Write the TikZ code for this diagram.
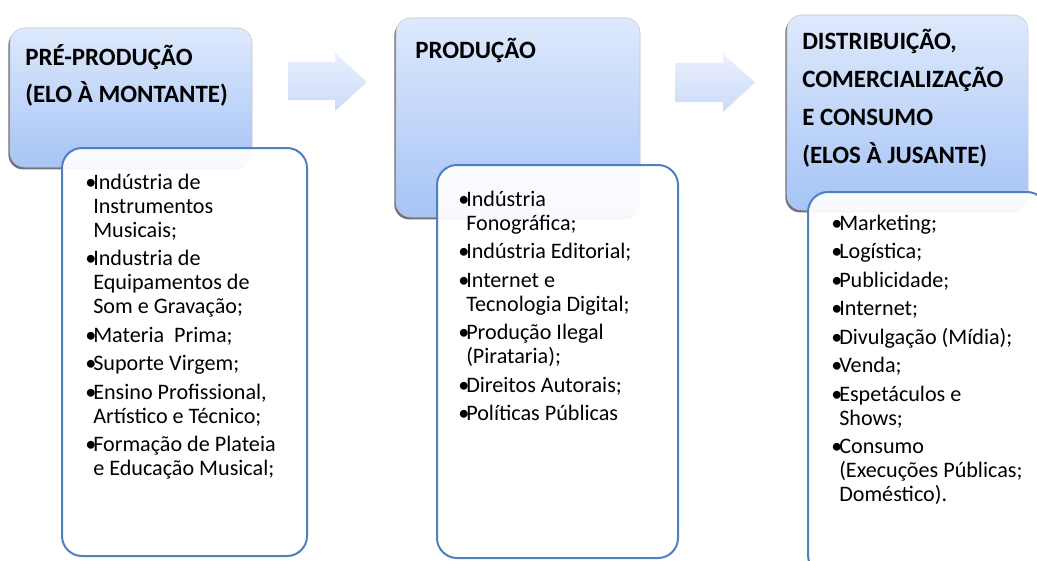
\documentclass[tikz,border=0pt]{standalone}
\usepackage{fontspec}
\setmainfont{Carlito}
\usetikzlibrary{fit,shadows}
\definecolor{hdtop}{RGB}{222,233,252}
\definecolor{hdbot}{RGB}{166,196,246}
\definecolor{artop}{RGB}{234,240,253}
\definecolor{arbot}{RGB}{204,219,248}
\definecolor{bxline}{RGB}{79,129,189}
\definecolor{shad}{RGB}{95,100,115}
\newlength{\bw}\setlength{\bw}{6pt}
\newcommand{\bfirst}[1]{\hbox{\makebox[\bw][l]{•}#1}}
\newcommand{\bcont}[1]{\hbox{\hspace*{\bw}#1}}
\newcommand{\bgap}{\vskip3.4pt}
\tikzset{
  hdr/.style={inner sep=0pt, rounded corners=11pt, top color=hdtop, bottom color=hdbot,
    draw=gray!45, line width=0.4pt,
    drop shadow={shadow xshift=-1.2pt, shadow yshift=-1.8pt, fill=shad, opacity=0.9}},
  listbox/.style={inner sep=0pt, rounded corners=15pt, draw=bxline, line width=1.5pt,
    fill=white, fill opacity=0.93},
  blockarrow/.style={top color=artop, bottom color=arbot, draw=none},
  hdtext/.style={anchor=base west, inner sep=0pt, font=\fontsize{18.7pt}{28.2pt}\selectfont\bfseries},
  lsttext/.style={anchor=base west, inner sep=0pt, font=\fontsize{16.6pt}{18pt}\selectfont}
}
\begin{document}
\begin{tikzpicture}[x=0.75pt,y=-0.75pt]
\fill[white] (0,0) rectangle (1037,560);
\useasboundingbox (0,0) rectangle (1037,560);
\clip (0,0) rectangle (1037,560);

% block arrows
\shade[blockarrow] (288,62) -- (335,62) -- (335,53) -- (367,82) -- (335,111) -- (335,100) -- (288,100) -- cycle;
\shade[blockarrow] (675,63) -- (723,63) -- (723,54) -- (755,82.5) -- (723,112) -- (723,102) -- (675,102) -- cycle;

% header boxes
\node[hdr, fit={(10,28)(252,167)}] (h1) {};
\node[hdr, fit={(396,18)(640,217)}] (h2) {};
\node[hdr, fit={(787,15)(1028,210)}] (h3) {};

% list boxes
\node[listbox, fit={(62,148)(307,556)}] (b1) {};
\node[listbox, fit={(437,165)(678,558)}] (b2) {};
\node[listbox, fit={(808,192)(1047,575)}] (b3) {};

% header texts
\node[hdtext] (t1) at (25,65) {\vtop{\baselineskip=28pt\hbox{PRÉ-PRODUÇÃO}\hbox{(ELO À MONTANTE)}}};
\node[hdtext] (t2) at (415,59) {PRODUÇÃO};
\node[hdtext] (t3) at (802,50) {\vtop{\baselineskip=28.4pt\hbox{DISTRIBUIÇÃO,}\hbox{COMERCIALIZAÇÃO}\hbox{E CONSUMO}\hbox{(ELOS À JUSANTE)}}};

% list texts
\node[lsttext] (l1) at (85,189) {\vtop{\baselineskip=18pt\lineskiplimit=-20pt
  \bfirst{Indústria de}\bcont{Instrumentos}\bcont{Musicais;}\bgap
  \bfirst{Industria de}\bcont{Equipamentos de}\bcont{Som e Gravação;}\bgap
  \bfirst{Materia\ \ Prima;}\bgap
  \bfirst{Suporte Virgem;}\bgap
  \bfirst{Ensino Profissional,}\bcont{Artístico e Técnico;}\bgap
  \bfirst{Formação de Plateia}\bcont{e Educação Musical;}}};
\node[lsttext] (l2) at (458,206) {\vtop{\baselineskip=18pt\lineskiplimit=-20pt
  \bfirst{Indústria}\bcont{Fonográfica;}\bgap
  \bfirst{Indústria Editorial;}\bgap
  \bfirst{Internet e}\bcont{Tecnologia Digital;}\bgap
  \bfirst{Produção Ilegal}\bcont{(Pirataria);}\bgap
  \bfirst{Direitos Autorais;}\bgap
  \bfirst{Políticas Públicas}}};
\node[lsttext] (l3) at (831,230) {\vtop{\baselineskip=18pt\lineskiplimit=-20pt
  \bfirst{Marketing;}\bgap
  \bfirst{Logística;}\bgap
  \bfirst{Publicidade;}\bgap
  \bfirst{Internet;}\bgap
  \bfirst{Divulgação (Mídia);}\bgap
  \bfirst{Venda;}\bgap
  \bfirst{Espetáculos e}\bcont{Shows;}\bgap
  \bfirst{Consumo}\bcont{(Execuções Públicas;}\bcont{Doméstico).}}};
\end{tikzpicture}
\end{document}
